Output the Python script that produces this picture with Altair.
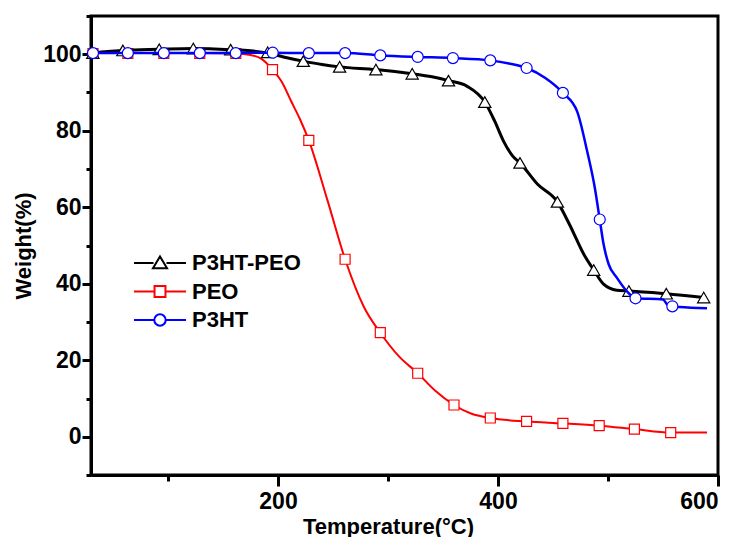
import altair as alt
import pandas as pd

FONT = "Liberation Sans"
names = ["P3HT-PEO", "PEO", "P3HT"]
colors = ["#000000", "#ff0000", "#0000ff"]

# ---- curves ----
blend_T = [31.7, 45, 59, 92, 123, 157, 175, 191, 205, 223, 240, 256, 289, 322, 340, 355,
           372, 388, 397, 405, 413, 420, 436, 454, 465, 478, 487, 496, 508, 519, 553, 587]
blend_W = [100.3, 100.7, 101.0, 101.3, 101.5, 101.2, 100.9, 100.3, 99.3, 98.2, 97.3, 96.7,
           96.0, 94.9, 94.1, 93.1, 91.6, 87.5, 82.5, 77.3, 73.5, 71.6, 66.0, 61.4, 55.5,
           47.7, 43.6, 39.9, 38.3, 38.1, 37.4, 36.4]

peo_T = [31.8, 63.5, 96, 129, 162, 175, 185, 195, 204, 212, 220, 228, 245, 261, 278, 293,
         310, 327, 343, 360, 376, 393, 426, 459, 492, 524, 557, 590]
peo_W = [100.3, 100.3, 100.3, 100.3, 100.2, 99.8, 98.8, 96.0, 92.5, 87.7, 83.0, 77.5, 61.8,
         46.4, 34.0, 27.2, 21.0, 16.6, 12.0, 8.3, 6.0, 4.9, 4.0, 3.5, 2.9, 2.0, 1.1, 1.1]

p3ht_T = [31.8, 96, 195, 228, 261, 293, 327, 359, 393, 410, 426, 443, 459, 472, 481, 488,
          492.5, 496, 500.6, 508, 517, 525, 550, 554, 558.5, 565, 590]
p3ht_W = [100.3, 100.3, 100.4, 100.3, 100.3, 99.7, 99.3, 99.0, 98.4, 97.6, 96.4, 93.8, 89.9,
          85.0, 74.7, 65.1, 56.8, 50.3, 45.1, 41.6, 38.1, 36.2, 35.9, 34.5, 34.1, 33.9, 33.6]

# ---- markers ----
blend_mT = [31.7, 59, 92, 123, 157, 190.6, 223, 256, 289, 322, 355, 388, 420, 454, 487, 519, 553, 587]
blend_mW = [100.3, 101.0, 101.3, 101.5, 101.2, 100.5, 98.2, 96.7, 96.0, 94.9, 93.1, 87.5,
            71.6, 61.4, 43.6, 38.1, 37.4, 36.4]

peo_mT = [31.8, 63.5, 96.2, 128.9, 161.6, 195, 228, 261, 293, 327, 360, 393, 426, 459, 492, 524, 557]
peo_mW = [100.2, 100.2, 100.2, 100.2, 100.2, 96.0, 77.5, 46.4, 27.2, 16.6, 8.3, 4.9, 4.0,
          3.5, 2.9, 2.0, 1.1]

p3ht_mT = [31.8, 63.5, 96.2, 128.9, 161.6, 195.2, 228, 261, 293, 327, 359, 393, 426, 459,
           492.5, 525, 558.5]
p3ht_mW = [100.3, 100.3, 100.3, 100.3, 100.3, 100.4, 100.3, 100.3, 99.7, 99.3, 99.0, 98.4,
           96.4, 89.9, 56.8, 36.2, 34.1]

x_ticks = [200, 400, 600]
x_minor = [100, 300, 500]
y_ticks = [0, 20, 40, 60, 80, 100]
y_minor = [-10, 10, 30, 50, 70, 90, 110]

xs = alt.Scale(domain=[30, 600], nice=False, zero=False)
ys = alt.Scale(domain=[-10, 110], nice=False, zero=False)

X_major = alt.X("T:Q", scale=xs, axis=alt.Axis(
    orient="bottom", values=x_ticks, title="Temperature(°C)", grid=False,
    labelFont=FONT, labelFontSize=23, labelFontWeight="bold", labelColor="black",
    labelPadding=4, tickSize=11, tickWidth=3, tickColor="black",
    domainColor="black", domainWidth=3,
    titleFont=FONT, titleFontSize=22, titleFontWeight="bold", titleColor="black",
    titleX=297, titleY=58, titleBaseline="alphabetic", titleAnchor="start", titleAlign="center"))
Y_major = alt.Y("W:Q", scale=ys, axis=alt.Axis(
    orient="left", values=y_ticks, title="Weight(%)", grid=False,
    labelFont=FONT, labelFontSize=23, labelFontWeight="bold", labelColor="black",
    labelPadding=1, tickSize=9, tickWidth=3, tickColor="black",
    domainColor="black", domainWidth=3,
    titleFont=FONT, titleFontSize=22, titleFontWeight="bold", titleColor="black",
    titleX=-61, titleY=229.5, titleBaseline="alphabetic", titleAngle=270, titleAlign="center"))
X_minor = alt.X("T:Q", scale=xs, axis=alt.Axis(
    orient="bottom", values=x_minor, labels=False, domain=False, grid=False, title=None,
    tickSize=6, tickWidth=3, tickColor="black"))
Y_minor = alt.Y("W:Q", scale=ys, axis=alt.Axis(
    orient="left", values=y_minor, labels=False, domain=False, grid=False, title=None,
    tickSize=5, tickWidth=3, tickColor="black"))
X_none = alt.X("T:Q", scale=xs, axis=None)
Y_none = alt.Y("W:Q", scale=ys, axis=None)


def line_layer(T, W, color, width, x, y):
    df = pd.DataFrame({"T": T, "W": W})
    return alt.Chart(df).mark_line(interpolate="monotone", color=color,
                                   strokeWidth=width, clip=False).encode(x=x, y=y)


def pts_layer(T, W, color, shape, size):
    df = pd.DataFrame({"T": T, "W": W})
    return alt.Chart(df).mark_point(shape=shape, filled=True, fill="white", stroke=color,
                                    strokeWidth=1.2, size=size, opacity=1,
                                    clip=False).encode(x=X_none, y=Y_none)


layers = [
    line_layer(peo_T, peo_W, colors[1], 2, X_major, Y_major),
    pts_layer(peo_mT, peo_mW, colors[1], "square", 100),
    line_layer(blend_T, blend_W, colors[0], 3, X_none, Y_none),
    pts_layer(blend_mT, blend_mW, colors[0], "triangle-up", 150),
    line_layer(p3ht_T, p3ht_W, colors[2], 2.5, X_none, Y_none),
    pts_layer(p3ht_mT, p3ht_mW, colors[2], "circle", 121),
]

# legend layer: no visible marks, legend built from explicit scale domains
leg_paths = [
    "M-1,0H-0.25M0.25,0H1M0,-0.25L0.27,0.2L-0.27,0.2Z",
    "M-1,0H-0.21M0.21,0H1M-0.21,-0.21H0.21V0.21H-0.21Z",
    "M-1,0H-0.22M0.22,0H1M0.22,0A0.22,0.22 0 1,1 -0.22,0A0.22,0.22 0 1,1 0.22,0Z",
]


def make_legend():
    return alt.Legend(orient="none", legendX=42, legendY=233,
                      symbolSize=2704, symbolStrokeWidth=2, clipHeight=28,
                      symbolFillColor="white", rowPadding=0.5,
                      labelFont=FONT, labelFontSize=22,
                      labelFontWeight="bold", labelColor="black",
                      labelOffset=5, padding=0, title=None)


leg_df = pd.DataFrame({"T": [100.0, 100.0, 100.0], "W": [50.0, 50.0, 50.0], "S": names})
legend_layer = alt.Chart(leg_df).mark_point(filled=False, opacity=1).encode(
    x=X_minor, y=Y_minor,
    stroke=alt.Stroke("S:N", scale=alt.Scale(domain=names, range=colors), title=None,
                      legend=make_legend()),
    shape=alt.Shape("S:N", scale=alt.Scale(domain=names, range=leg_paths), title=None,
                    legend=make_legend()),
).transform_filter("datum.T < 0")

chart = alt.layer(*layers[:1], legend_layer, *layers[1:]).resolve_axis(
    x="independent", y="independent"
).properties(
    width=627, height=459,
    autosize=alt.AutoSizeParams(type="none"),
    padding={"left": 83, "top": 8, "right": 10, "bottom": 62},
    background="white",
).configure_view(stroke="black", strokeWidth=3)

chart.save("out.html", embed_options={"renderer": "svg", "actions": False})
